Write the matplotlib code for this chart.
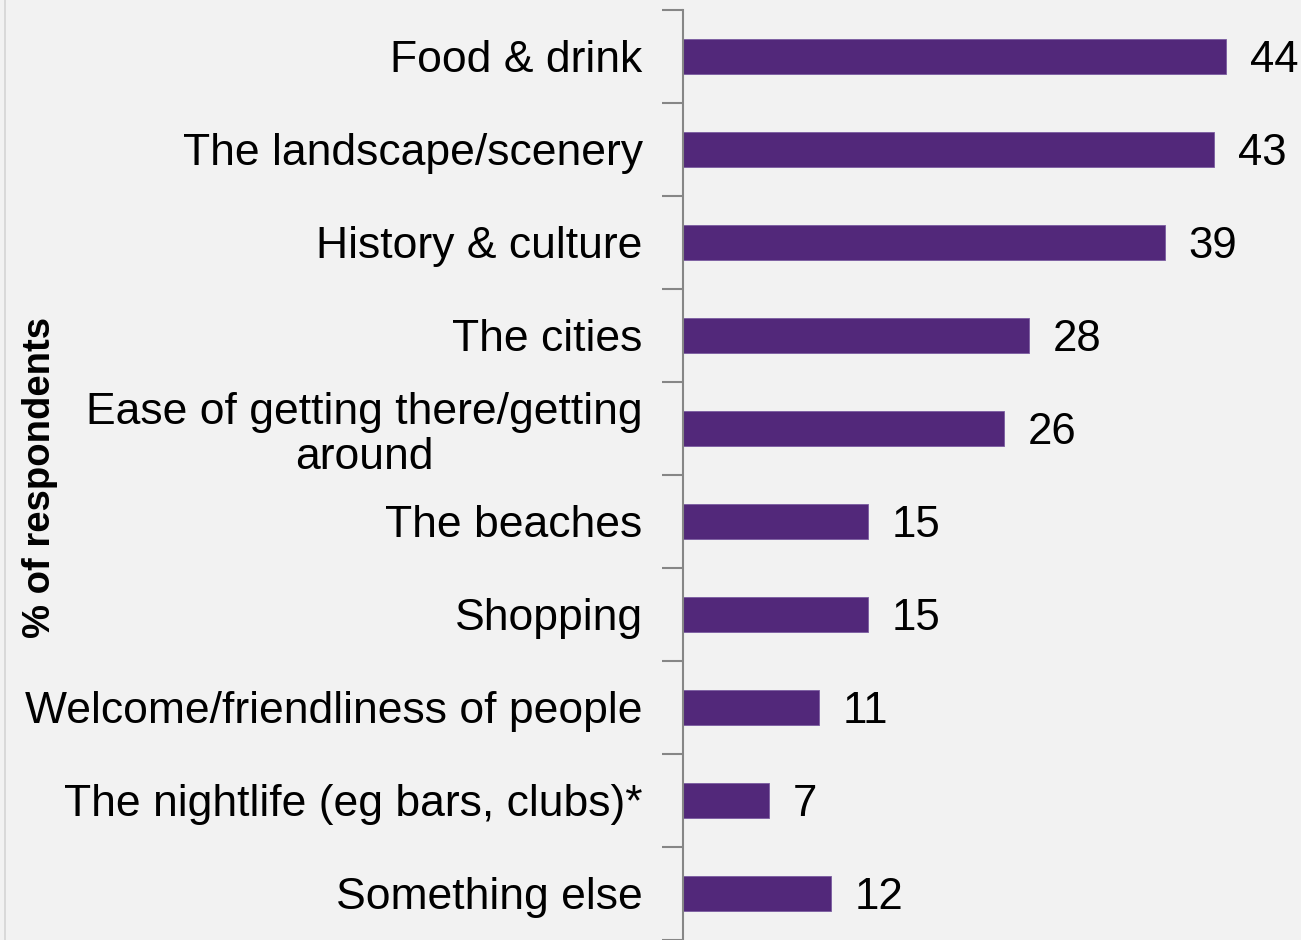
import matplotlib
matplotlib.use("Agg")
import matplotlib.pyplot as plt
from matplotlib.lines import Line2D
import numpy as np

categories = [
    "Food & drink",
    "The landscape/scenery",
    "History & culture",
    "The cities",
    "Ease of getting there/getting\naround",
    "The beaches",
    "Shopping",
    "Welcome/friendliness of people",
    "The nightlife (eg bars, clubs)*",
    "Something else",
]
values = [44, 43, 39, 28, 26, 15, 15, 11, 7, 12]
axis_title = "% of respondents"

plt.rcParams["font.family"] = ["Liberation Sans", "DejaVu Sans"]

BG = "#F2F2F2"
BAR = "#52287A"
AXIS = "#868686"

fig = plt.figure(figsize=(13.01, 9.40), dpi=100, facecolor=BG)
ax = fig.add_axes([683 / 1301, 0.0, 1 - 683 / 1301, 1 - 10 / 940])
ax.set_facecolor(BG)

y = np.arange(len(categories))
ax.barh(y, values, height=0.37, color=BAR, edgecolor="#7A5CA0", linewidth=0.6)

ax.set_ylim(len(categories) - 0.5, -0.5)
ax.set_xlim(0, (1301 - 683) / 12.35)

ax.set_yticks(y)
ax.set_yticklabels(categories, fontsize=32)
ax.set_yticks(np.arange(len(categories) + 1) - 0.5, minor=True)
ax.tick_params(axis="y", which="major", length=0, pad=29)
ax.tick_params(axis="y", which="minor", length=15, width=1.5, color=AXIS, direction="out")
ax.set_xticks([])

for lab in ax.get_yticklabels():
    if "\n" in lab.get_text():
        lab.set_multialignment("center")
        lab.set_linespacing(1.12)

for s in ["top", "right", "bottom"]:
    ax.spines[s].set_visible(False)
ax.spines["left"].set_color(AXIS)
ax.spines["left"].set_linewidth(1.5)

for yi, v in zip(y, values):
    ax.annotate(str(v), xy=(v, yi), xytext=(17, 0), textcoords="offset points",
                ha="left", va="center_baseline", fontsize=31.5, color="black",
                annotation_clip=False)

fig.text(40 / 1301, 1 - 477 / 940, axis_title, rotation=90, ha="center", va="center",
         fontsize=27.5, fontweight="bold")

fig.add_artist(Line2D([5 / 1301, 5 / 1301], [0, 1], transform=fig.transFigure,
                      color="#D4D4D4", linewidth=1.2))

fig.savefig("out.png", dpi=100, facecolor=BG)
